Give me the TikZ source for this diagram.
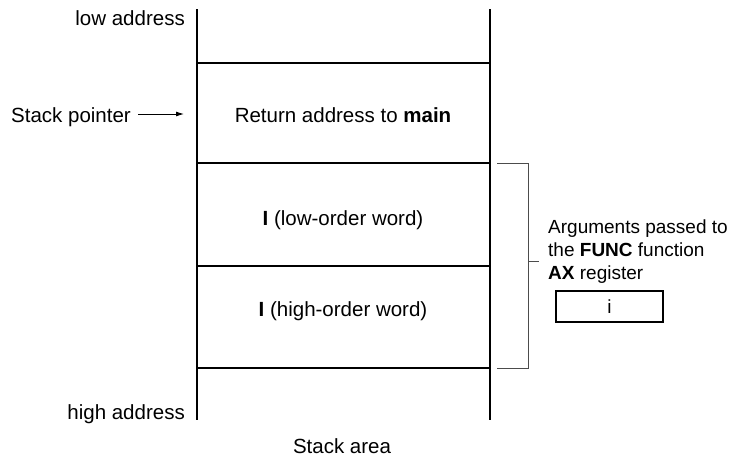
\documentclass[tikz,border=0pt]{standalone}
\usepackage{fontspec}
\setmainfont{Liberation Sans}
\usetikzlibrary{arrows.meta}
\begin{document}
\begin{tikzpicture}[x=1pt,y=-1pt,
  txt/.style={inner sep=0pt,font=\fontsize{20.5}{24}\selectfont},
  smalltxt/.style={inner sep=0pt,font=\fontsize{19}{23}\selectfont},
  wall/.style={line width=2.2pt,line cap=rect},
  bracketline/.style={line width=0.9pt,draw=black!70},
  regbox/.style={draw,line width=1.6pt,minimum width=107pt,minimum height=31pt,inner sep=0pt}]
\useasboundingbox (0,0) rectangle (744,456);
% stack walls
\coordinate (tl) at (197,10);
\coordinate (bl) at (197,419);
\coordinate (tr) at (490,10);
\coordinate (br) at (490,419);
\draw[wall] (tl) -- (bl);
\draw[wall] (tr) -- (br);
\foreach \n/\y in {a/63,b/163,c/266,d/368}{
  \coordinate (l\n) at (197,\y);
  \coordinate (r\n) at (490,\y);
  \draw[wall] (l\n) -- (r\n);
}
% labels
\node[txt,anchor=base east] (low) at (185,25) {low address};
\node[txt,anchor=base east] (high) at (185,419) {high address};
\node[txt,anchor=base east] (sp) at (131,122) {Stack pointer};
\coordinate (spstart) at (138,114);
\coordinate (sptip) at (184,114);
\draw[line width=0.9pt,-{Latex[length=8pt,width=5pt]}] (spstart) -- (sptip);
\node[txt,anchor=base] (ret) at (343,122) {Return address to \textbf{main}};
\node[txt,anchor=base] (lowword) at (343,225) {\textbf{I} (low-order word)};
\node[txt,anchor=base] (highword) at (343,316) {\textbf{I} (high-order word)};
\node[txt,anchor=base] (area) at (342,453) {Stack area};
% bracket
\coordinate (bt0) at (497,163);
\coordinate (bt1) at (528,163);
\coordinate (bb0) at (497,368);
\coordinate (bb1) at (528,368);
\coordinate (bm0) at (528,261);
\coordinate (bm1) at (539,261);
\draw[bracketline] (bt0) -- (bt1) -- (bb1) -- (bb0);
\draw[bracketline] (bm0) -- (bm1);
\node[smalltxt,anchor=base west] (arg1) at (548,233) {Arguments passed to};
\node[smalltxt,anchor=base west] (arg2) at (548,256) {the \textbf{FUNC} function};
\node[smalltxt,anchor=base west] (arg3) at (548,279) {\textbf{AX} register};
\node[regbox,smalltxt,minimum width=107pt,minimum height=31pt] (reg) at (609.5,306.5) {i};
\end{tikzpicture}
\end{document}
